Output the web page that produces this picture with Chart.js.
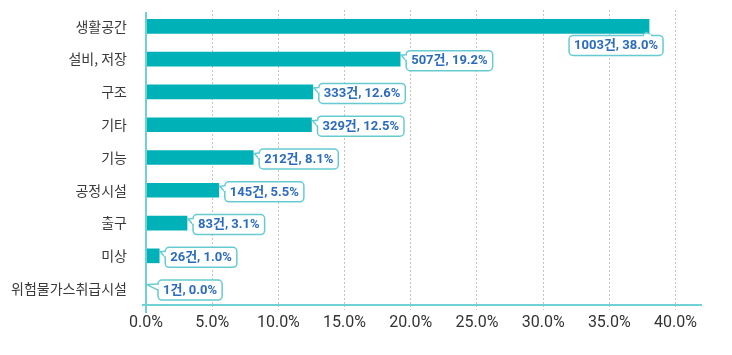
<!DOCTYPE html>
<html>
<head>
<meta charset="utf-8">
<script src="https://cdn.jsdelivr.net/npm/chart.js@4"></script>
<style>
html,body{margin:0;padding:0;background:#fff;}
#wrap{width:732px;height:355px;}
</style>
</head>
<body>
<div id="wrap"><canvas id="c" width="732" height="355"></canvas></div>
<script>
const categories = ['생활공간', '설비, 저장', '구조', '기타', '기능', '공정시설', '출구', '미상', '위험물가스취급시설'];
const counts = [1003, 507, 333, 329, 212, 145, 83, 26, 1];
const percents = [38.0, 19.2, 12.6, 12.5, 8.1, 5.5, 3.1, 1.0, 0.0];
const tickValues = [0, 5, 10, 15, 20, 25, 30, 35, 40];

const BAR = '#00b1b8';
const AXIS = '#6fd0d5';
const BOX_BORDER = '#66cbd1';
const TEXT_BLUE = '#2c6cbc';

const calloutPlugin = {
  id: 'callouts',
  afterDatasetsDraw(chart) {
    const ctx = chart.ctx;
    const area = chart.chartArea;
    ctx.save();
    ctx.strokeStyle = AXIS;
    ctx.lineWidth = 2;
    ctx.beginPath();
    ctx.moveTo(area.left - 4, area.bottom);
    ctx.lineTo(area.right, area.bottom);
    ctx.moveTo(area.left, area.top + 2);
    ctx.lineTo(area.left, area.bottom + 8);
    ctx.stroke();
    ctx.restore();

    const meta = chart.getDatasetMeta(0);
    ctx.save();
    ctx.font = 'bold 13px Roboto, "Noto Sans CJK KR", sans-serif';
    ctx.textBaseline = 'middle';
    ctx.textAlign = 'center';
    meta.data.forEach((bar, i) => {
      const text = counts[i] + '건, ' + percents[i].toFixed(1) + '%';
      const tw = ctx.measureText(text).width;
      const w = tw + 10, h = 20, r = 4;
      const barEnd = bar.x;
      const barTop = bar.y - bar.height / 2;
      const barBottom = bar.y + bar.height / 2;
      let l, t, notch;
      if (i === 0) {
        l = barEnd + 14 - w;
        t = barBottom + 2;
        notch = [[barEnd - 6, t], [barEnd - 3, barBottom - 1], [barEnd + 3, t]];
      } else {
        l = Math.max(barEnd + 6, area.left + 12);
        t = bar.y + 1.5 - h / 2;
        notch = [[l, t + 4], [barEnd + 1, Math.min(barTop + 3, t + 5)], [l, t + 10]];
      }
      ctx.lineWidth = 1.5;
      ctx.strokeStyle = BOX_BORDER;
      ctx.fillStyle = '#fff';
      ctx.beginPath();
      ctx.roundRect(l, t, w, h, r);
      ctx.fill();
      ctx.stroke();
      ctx.beginPath();
      ctx.moveTo(notch[0][0], notch[0][1]);
      ctx.lineTo(notch[1][0], notch[1][1]);
      ctx.lineTo(notch[2][0], notch[2][1]);
      ctx.closePath();
      ctx.fill();
      ctx.beginPath();
      ctx.moveTo(notch[0][0], notch[0][1]);
      ctx.lineTo(notch[1][0], notch[1][1]);
      ctx.lineTo(notch[2][0], notch[2][1]);
      ctx.stroke();
      ctx.fillStyle = '#fff';
      ctx.beginPath();
      if (i === 0) {
        ctx.rect(notch[0][0] + 1, t - 1, notch[2][0] - notch[0][0] - 2, 2.5);
      } else {
        ctx.rect(l - 1, notch[0][1] + 1, 2.5, notch[2][1] - notch[0][1] - 2);
      }
      ctx.fill();
      ctx.fillStyle = TEXT_BLUE;
      ctx.fillText(text, l + w / 2, t + h / 2 + 0.5);
    });
    ctx.restore();
  }
};

new Chart(document.getElementById('c'), {
  type: 'bar',
  data: {
    labels: categories,
    datasets: [{
      data: percents,
      backgroundColor: BAR,
      borderWidth: 0,
      barThickness: 14,
      minBarLength: 0
    }]
  },
  options: {
    indexAxis: 'y',
    responsive: false,
    devicePixelRatio: 1,
    animation: false,
    layout: { padding: { top: 10, right: 30, bottom: 0, left: 0 } },
    plugins: { legend: { display: false }, tooltip: { enabled: false } },
    scales: {
      x: {
        min: 0,
        max: 42,
        afterBuildTicks(scale) { scale.ticks = tickValues.map(v => ({ value: v })); },
        afterFit(scale) { scale.height = 50; scale.paddingLeft = 0; scale.paddingRight = 0; },
        grid: {
          color: ctx => ctx.tick && ctx.tick.value === 0 ? 'rgba(0,0,0,0)' : '#c4c4c4',
          lineWidth: 1,
          tickLength: 5,
          tickBorderDash: [2, 2],
          drawOnChartArea: true
        },
        border: { display: false, dash: [2, 2] },
        ticks: {
          padding: 3,
          color: '#333',
          font: { family: 'Roboto', size: 16 },
          callback: v => v.toFixed(1) + '%'
        }
      },
      y: {
        afterFit(scale) { scale.width = 146; scale.paddingTop = 0; scale.paddingBottom = 0; },
        grid: { display: false, drawTicks: false },
        border: { display: false },
        ticks: {
          padding: 19,
          color: '#3a3a3a',
          font: { family: '"Noto Sans CJK KR"', size: 14 }
        }
      }
    }
  },
  plugins: [calloutPlugin]
});
</script>
</body>
</html>
